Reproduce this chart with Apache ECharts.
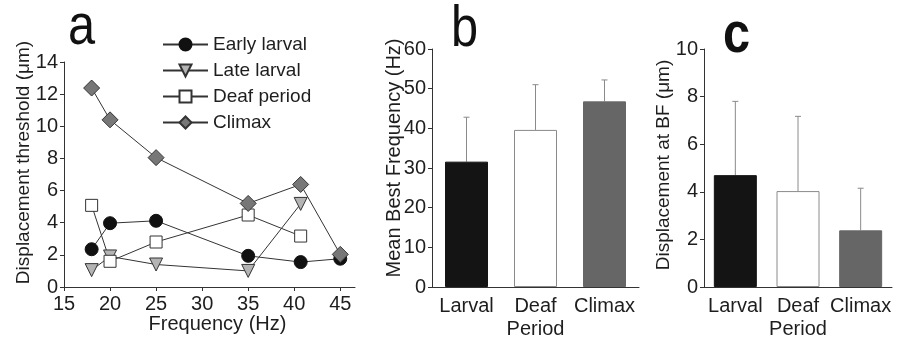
<!DOCTYPE html>
<html>
<head>
<meta charset="utf-8">
<script src="https://cdn.jsdelivr.net/npm/echarts@6/dist/echarts.min.js"></script>
<style>
  html, body { margin: 0; padding: 0; background: #fff; }
  #main { width: 907px; height: 344px; }
</style>
</head>
<body>
<div id="main"></div>
<script>
// panel a: threshold vs frequency
var freqTicks = [15, 20, 25, 30, 35, 40, 45];
var earlyLarval = [[18, 2.35], [20, 3.97], [25, 4.12], [35, 1.94], [40.7, 1.55], [45, 1.76]];
var lateLarval = [[18, 1.05], [20, 1.9], [25, 1.4], [35, 1.0], [40.7, 5.17]];
var deafPeriod = [[18, 5.08], [20, 1.6], [25, 2.8], [35, 4.48], [40.7, 3.17]];
var climax = [[18, 12.38], [20, 10.4], [25, 8.05], [35, 5.2], [40.7, 6.38], [45, 2.03]];

// panel b / c: bars with upper error bars
var periods = ['Larval', 'Deaf', 'Climax'];
var bestFreq = [31.6, 39.6, 46.8];
var bestFreqErr = [42.8, 51.0, 52.2];
var dispBF = [4.7, 4.03, 2.38];
var dispBFErr = [7.8, 7.17, 4.15];
var barColors = ['#141414', '#ffffff', '#666666'];

var font = 'Liberation Sans, Arial, sans-serif';
var txt = '#1e1e1e';

var myChart = echarts.init(document.getElementById('main'));

function barData(vals) {
  return vals.map(function (v, i) {
    return {
      value: v,
      itemStyle: { color: barColors[i], borderColor: i == 1 ? '#8a8a8a' : barColors[i], borderWidth: 1 }
    };
  });
}
function errData(vals, tops) {
  return vals.map(function (v, i) { return [i, tops[i], v]; });
}
// 误差线 只画上半部分
function renderErr(params, api) {
  var top = api.coord([api.value(0), api.value(1)]);
  var base = api.coord([api.value(0), api.value(2)]);
  var st = { stroke: '#8a8a8a', lineWidth: 1 };
  return {
    type: 'group',
    children: [
      { type: 'line', shape: { x1: top[0], y1: base[1], x2: top[0], y2: top[1] }, style: st },
      { type: 'line', shape: { x1: top[0] - 3, y1: top[1], x2: top[0] + 3, y2: top[1] }, style: st }
    ]
  };
}
// 面板字母 a b c
function letter(t, x, y, bold) {
  return {
    type: 'text', x: x, y: y, scaleX: 0.84,
    style: {
      text: t, fill: '#111', fontSize: 58, fontFamily: font,
      fontWeight: bold ? 'bold' : 'normal', verticalAlign: 'top'
    }
  };
}

var axisLine = { lineStyle: { color: '#333', width: 1 } };
var tickLab = { color: txt, fontSize: 20, fontFamily: font };
var nameStyle = { color: txt, fontSize: 19, fontFamily: font };
var xNameStyle = { color: txt, fontSize: 20, fontFamily: font };

var lineCommon = {
  type: 'line',
  xAxisIndex: 0,
  yAxisIndex: 0,
  symbolSize: 13,
  lineStyle: { color: '#333', width: 1 },
  emphasis: { disabled: true }
};

var option = {
  animation: false,
  textStyle: { fontFamily: font },
  graphic: [
    letter('a', 68, -1, false),
    letter('b', 451, 1, false),
    letter('c', 723, 7, true)
  ],
  legend: {
    orient: 'vertical',
    left: 157,
    top: 30,
    itemWidth: 45,
    itemHeight: 15,
    itemGap: 7,
    textStyle: { color: txt, fontSize: 19, fontFamily: font },
    data: ['Early larval', 'Late larval', 'Deaf period', 'Climax']
  },
  grid: [
    { left: 64, top: 62, width: 291, height: 225 },
    { left: 432, top: 49, width: 207, height: 238 },
    { left: 704, top: 49, width: 188, height: 238 }
  ],
  xAxis: [
    {
      gridIndex: 0, type: 'value', min: 15, max: 46.6,
      name: 'Frequency (Hz)', nameLocation: 'middle', nameGap: 27, nameMoveOverlap: false,
      nameTextStyle: Object.assign({ padding: [0, 0, 0, 16] }, xNameStyle),
      axisLine: axisLine,
      axisTick: { customValues: freqTicks, length: 4, lineStyle: { color: '#333' } },
      axisLabel: Object.assign({ customValues: freqTicks, margin: 7 }, tickLab),
      splitLine: { show: false }
    },
    {
      gridIndex: 1, type: 'category', data: periods,
      name: 'Period', nameLocation: 'middle', nameGap: 32, nameMoveOverlap: false, nameTextStyle: xNameStyle,
      axisLine: axisLine, axisTick: { show: false },
      axisLabel: Object.assign({ margin: 9, interval: 0 }, tickLab)
    },
    {
      gridIndex: 2, type: 'category', data: periods,
      name: 'Period', nameLocation: 'middle', nameGap: 32, nameMoveOverlap: false, nameTextStyle: xNameStyle,
      axisLine: axisLine, axisTick: { show: false },
      axisLabel: Object.assign({ margin: 9, interval: 0 }, tickLab)
    }
  ],
  yAxis: [
    {
      gridIndex: 0, type: 'value', min: 0, max: 14, interval: 2,
      name: 'Displacement threshold (\u03bcm)', nameLocation: 'middle', nameGap: 31, nameMoveOverlap: false,
      nameTextStyle: Object.assign({ padding: [0, 0, 0, 24] }, nameStyle),
      axisLine: Object.assign({ show: true }, axisLine),
      axisTick: { show: true, length: 4, lineStyle: { color: '#333' } },
      axisLabel: Object.assign({ margin: 6 }, tickLab),
      splitLine: { show: false }
    },
    {
      gridIndex: 1, type: 'value', min: 0, max: 60, interval: 10,
      name: 'Mean Best Frequency (Hz)', nameLocation: 'middle', nameGap: 28, nameMoveOverlap: false,
      nameTextStyle: Object.assign({ padding: [0, 0, 0, 20] }, nameStyle, { fontSize: 20 }),
      axisLine: Object.assign({ show: true }, axisLine),
      axisTick: { show: true, length: 4, lineStyle: { color: '#333' } },
      axisLabel: Object.assign({ margin: 6 }, tickLab),
      splitLine: { show: false }
    },
    {
      gridIndex: 2, type: 'value', min: 0, max: 10, interval: 2,
      name: 'Displacement at BF (\u03bcm)', nameLocation: 'middle', nameGap: 31, nameMoveOverlap: false,
      nameTextStyle: Object.assign({ padding: [0, 0, 0, 6] }, nameStyle),
      axisLine: Object.assign({ show: true }, axisLine),
      axisTick: { show: true, length: 4, lineStyle: { color: '#333' } },
      axisLabel: Object.assign({ margin: 6 }, tickLab),
      splitLine: { show: false }
    }
  ],
  series: [
    Object.assign({}, lineCommon, {
      name: 'Early larval', data: earlyLarval, symbol: 'circle',
      itemStyle: { color: '#111', borderColor: '#111', borderWidth: 1 }
    }),
    Object.assign({}, lineCommon, {
      name: 'Late larval', data: lateLarval, symbol: 'triangle', symbolRotate: 180, symbolSize: 13,
      itemStyle: { color: '#b4b4b4', borderColor: '#333', borderWidth: 1 }
    }),
    Object.assign({}, lineCommon, {
      name: 'Deaf period', data: deafPeriod, symbol: 'rect', symbolSize: 12,
      itemStyle: { color: '#fff', borderColor: '#333', borderWidth: 1 }
    }),
    Object.assign({}, lineCommon, {
      name: 'Climax', data: climax, symbol: 'diamond', symbolSize: 16,
      itemStyle: { color: '#777', borderColor: '#333', borderWidth: 1 }
    }),
    {
      type: 'bar', xAxisIndex: 1, yAxisIndex: 1, barWidth: 43,
      data: barData(bestFreq), emphasis: { disabled: true }
    },
    {
      type: 'custom', xAxisIndex: 1, yAxisIndex: 1,
      renderItem: renderErr, data: errData(bestFreq, bestFreqErr), z: 1
    },
    {
      type: 'bar', xAxisIndex: 2, yAxisIndex: 2, barWidth: 43,
      data: barData(dispBF), emphasis: { disabled: true }
    },
    {
      type: 'custom', xAxisIndex: 2, yAxisIndex: 2,
      renderItem: renderErr, data: errData(dispBF, dispBFErr), z: 1
    }
  ]
};

myChart.setOption(option);
</script>
</body>
</html>
